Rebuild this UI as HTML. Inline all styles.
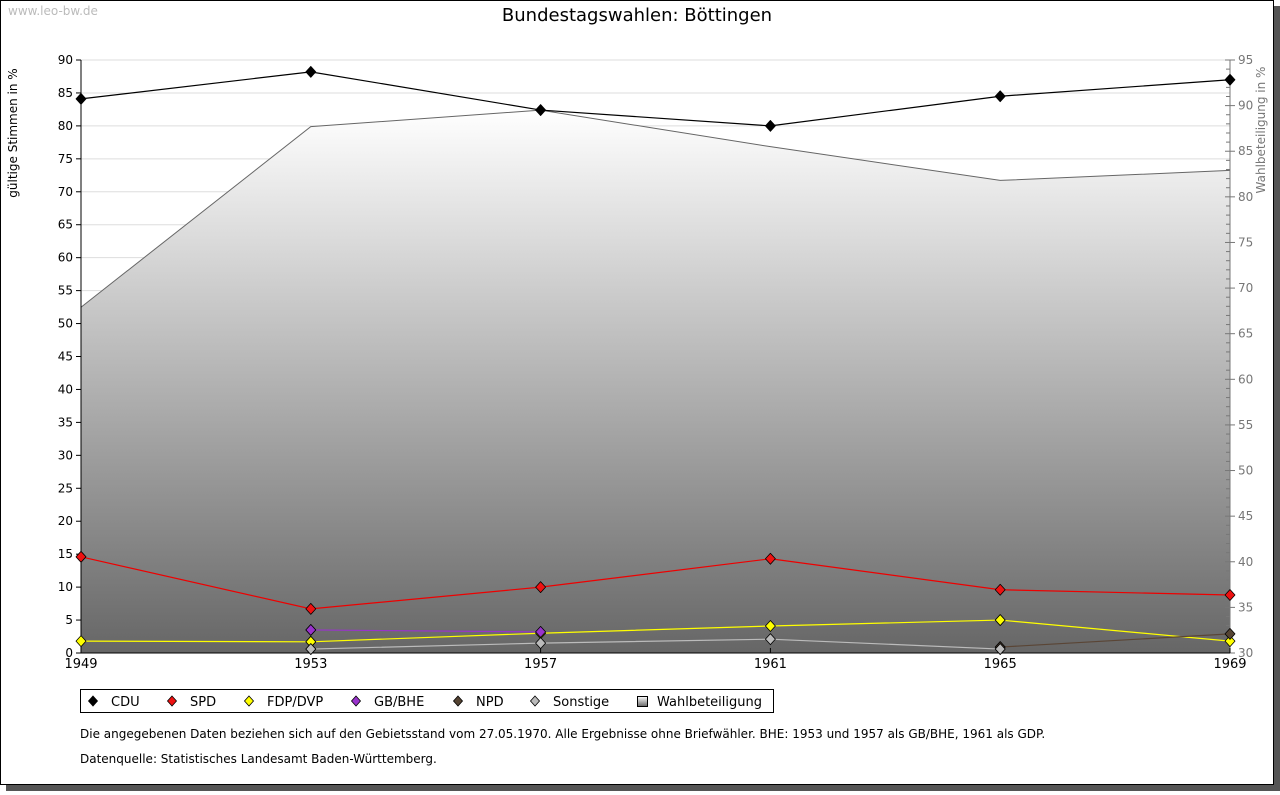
<!DOCTYPE html>
<html><head><meta charset="utf-8"><style>
body{margin:0;background:#fff;font-family:"DejaVu Sans","Liberation Sans",sans-serif;}
</style></head><body>
<svg id="chart" width="1280" height="791" xmlns="http://www.w3.org/2000/svg">
<defs><linearGradient id="g" x1="0" y1="0" x2="0" y2="1"><stop offset="0" stop-color="#ffffff"/><stop offset="1" stop-color="#666666"/></linearGradient></defs>
<rect x="6" y="6" width="1274" height="785" fill="#555"/>
<rect x="0.5" y="0.5" width="1273" height="784" fill="#fff" stroke="#000"/>
<text x="8" y="15" font-size="12" fill="#bbb">www.leo-bw.de</text>
<text x="637" y="21" font-size="18" text-anchor="middle">Bundestagswahlen: Böttingen</text>
<text transform="translate(17,133) rotate(-90)" font-size="12" text-anchor="middle">gültige Stimmen in %</text>
<text transform="translate(1265,130) rotate(-90)" font-size="12" fill="#777" text-anchor="middle">Wahlbeteiligung in %</text>
<g id="grid"></g><g id="area"></g><g id="axes"></g><g id="series"></g>
<rect x="80.5" y="689.5" width="693" height="23" fill="#fff" stroke="#000"/>
<g id="legend"></g>
<text x="80" y="738" font-size="12">Die angegebenen Daten beziehen sich auf den Gebietsstand vom 27.05.1970. Alle Ergebnisse ohne Briefwähler. BHE: 1953 und 1957 als GB/BHE, 1961 als GDP.</text>
<text x="80" y="763" font-size="12">Datenquelle: Statistisches Landesamt Baden-Württemberg.</text>
</svg>
<script>
const years=[1949,1953,1957,1961,1965,1969];
const cdu=[84.1,88.2,82.4,80.0,84.5,87.0];
const spd=[14.6,6.7,10.0,14.3,9.6,8.8];
const fdp=[1.8,1.7,3.0,4.1,5.0,1.8];
const gbbhe=[null,3.5,3.2,null,null,null];
const npd=[null,null,null,null,0.9,2.9];
const sonstige=[null,0.6,1.5,2.1,0.6,null];
const turnout=[67.9,87.7,89.5,85.5,81.8,82.9];
const leftTicks=[0,5,10,15,20,25,30,35,40,45,50,55,60,65,70,75,80,85,90];
const rightTicks=[30,35,40,45,50,55,60,65,70,75,80,85,90,95];
const NS="http://www.w3.org/2000/svg";
const X0=81,X1=1230,Y0=653,Y1=60;
const xs=y=>X0+(y-1949)/(1969-1949)*(X1-X0);
const yl=v=>Y0-v/90*(Y0-Y1);
const yr=v=>Y0-(v-30)/65*(Y0-Y1);
function mk(tag,attrs,parent){const e=document.createElementNS(NS,tag);for(const k in attrs)e.setAttribute(k,attrs[k]);document.getElementById(parent).appendChild(e);return e;}
leftTicks.forEach(t=>{
 if(t>0){const l=mk('line',{x1:X0,x2:X1,y1:yl(t),y2:yl(t),stroke:'#ddd'},'grid');
 
 }
 const tk=mk('line',{x1:X0-5,x2:X0,y1:yl(t),y2:yl(t),stroke:'#000'},'axes');
 
 
 const tx=mk('text',{x:X0-8,y:yl(t)+4,'font-size':12,'text-anchor':'end'},'axes');tx.textContent=t;
 
 
});
let pts=years.map((y,i)=>xs(y)+','+yr(turnout[i])).join(' ');
const ar=mk('polygon',{points:X0+','+Y0+' '+pts+' '+X1+','+Y0,fill:'url(#g)',stroke:'none'},'area');


const al=mk('polyline',{points:pts,fill:'none',stroke:'#666'},'area');


for(let v=30;v<=95;v++){
 const major=v%5===0;
 const t=mk('line',{x1:X1-(major?5:4),x2:X1+(major?5:0),y1:yr(v),y2:yr(v),stroke:'#777'},'axes');
 
 
}
rightTicks.forEach(t=>{const tx=mk('text',{x:X1+8,y:yr(t)+4,'font-size':12,fill:'#777'},'axes');tx.textContent=t;
 
 });
const la=mk('line',{x1:X0,x2:X0,y1:Y1,y2:Y0,stroke:'#000'},'axes');


const ra=mk('line',{x1:X1,x2:X1,y1:Y1,y2:Y0,stroke:'#777'},'axes');


const xa=mk('line',{x1:X0,x2:X1,y1:Y0,y2:Y0,stroke:'#000'},'axes');


years.forEach(y=>{const t=mk('line',{x1:xs(y),x2:xs(y),y1:Y0,y2:Y0-5,stroke:'#000'},'axes');
 
 
 const tx=mk('text',{x:xs(y),y:Y0+15,'font-size':13,'text-anchor':'middle'},'axes');tx.textContent=y;
 
 });
const series=[['cdu',cdu,'#000','#000'],['spd',spd,'#e00','#e11'],['fdp',fdp,'#ff0','#ff0'],['gbbhe',gbbhe,'#9933cc','#93c'],['npd',npd,'#5a4535','#543'],['sonstige',sonstige,'#bbb','#bbb']];
series.forEach(([n,d,lc,fc])=>{
 let seg=[];
 years.forEach((y,i)=>{if(d[i]!=null)seg.push(xs(y)+','+yl(d[i]));});
 const pl=mk('polyline',{points:seg.join(' '),fill:'none',stroke:lc,'stroke-width':1.2},'series');
 
 
 years.forEach((y,i)=>{if(d[i]==null)return;const cx=xs(y),cy=yl(d[i]);
  const m=mk('polygon',{points:`${cx},${cy-5.5} ${cx+5},${cy} ${cx},${cy+5.5} ${cx-5},${cy}`,fill:fc,stroke:'#000','stroke-width':0.8,'stroke-linejoin':'round'},'series');
  
  });
});
const leg=[['CDU','#000',93],['SPD','#e11',172],['FDP/DVP','#ff0',249],['GB/BHE','#93c',356],['NPD','#543',458],['Sonstige','#bbb',535]];
leg.forEach(([l,c,x])=>{
 const m=mk('polygon',{points:`${x},${696} ${x+4.5},${701} ${x},${706} ${x-4.5},${701}`,fill:c,stroke:'#000','stroke-width':0.8},'legend');
 
 
 const t=mk('text',{x:x+18,y:706,'font-size':13},'legend');t.textContent=l;
 
 
});
const sq=mk('rect',{x:637.5,y:696.5,width:10,height:10,fill:'url(#g)',stroke:'#000'},'legend');


const wt=mk('text',{x:657,y:706,'font-size':13},'legend');wt.textContent='Wahlbeteiligung';


</script>
</body></html>
